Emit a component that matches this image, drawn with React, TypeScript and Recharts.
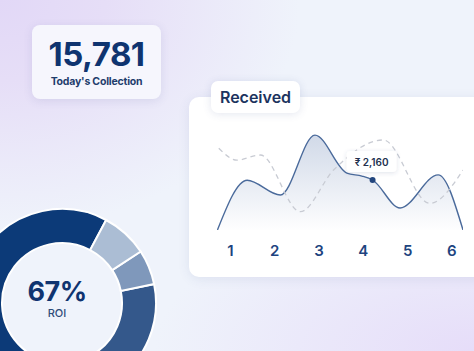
import React from 'react';
import {
  ComposedChart, Area, Line, XAxis, YAxis, ReferenceDot,
  PieChart, Pie, Cell,
} from 'recharts';

// 受取額（実線）
const receivedX = [0.71, 1.38, 2.13, 2.91, 3.63, 3.97, 4.21, 4.83, 5.69, 6.25];
const receivedY = [0, 2150, 1510, 4100, 2460, 2330, 2160, 950, 2380, 0];

// 比較用（破線）
const compareX = [0.74, 1.15, 1.68, 2.58, 3.33, 4.45, 5.5, 6.25];
const compareY = [3530, 3020, 3240, 790, 2590, 3890, 1150, 2590];

const xTicks = [1, 2, 3, 4, 5, 6];
const highlight = { x: 4.21, y: 2160, label: '₹ 2,160' };

// ROI ドーナツ
const roiNames = ['ROI', 'B', 'C', 'D'];
const roiValues = [67, 19, 6, 8];
const roiColors = ['#0c3a78', '#34588b', '#7f98bb', '#abbdd4'];

const totalCollection = '15,781';

const FONT = 'Inter, "Noto Sans", sans-serif';

const receivedData = receivedX.map((x, i) => ({ x, v: receivedY[i] }));
const compareData = compareX.map((x, i) => ({ x, v: compareY[i] }));
const roiData = roiNames.map((name, i) => ({ name, value: roiValues[i] }));

function HighlightShape(props: any) {
  const { cx, cy } = props;
  if (cx == null || cy == null) return null;
  return (
    <g>
      <rect x={cx - 26} y={cy - 29} width={50} height={21} rx={4} fill="#fff" filter="url(#tipShadow)" />
      <text x={cx - 1} y={cy - 18.5} textAnchor="middle" dominantBaseline="central"
        fontSize={10} fontWeight={600} fill="#22314f" fontFamily={FONT}>{highlight.label}</text>
      <circle cx={cx} cy={cy} r={3} fill="#23467e" />
    </g>
  );
}

export default function App() {
  return (
    <div style={{
      position: 'absolute', left: 0, top: 0, width: 474, height: 351, overflow: 'hidden',
      fontFamily: FONT,
      background: 'radial-gradient(ellipse 300px 230px at 0px 0px, #e2d8f7 0%, #e6def7 35%, rgba(230,222,247,0) 100%), radial-gradient(ellipse 320px 150px at 474px 351px, #e6ddf9 0%, rgba(230,221,249,0) 100%), #eff3fb',
    }}>
      {/* 今日の集金 */}
      <div style={{
        position: 'absolute', left: 32, top: 25, width: 129, height: 74, borderRadius: 8,
        background: '#f6f6fd', boxShadow: '0 2px 10px rgba(70,80,150,0.12)',
        textAlign: 'center', color: '#0f3470',
      }}>
        <div style={{ fontSize: 33, fontWeight: 700, lineHeight: '34px', marginTop: 12, letterSpacing: -0.5 }}>{totalCollection}</div>
        <div style={{ fontSize: 10.5, fontWeight: 700, marginTop: 4, color: '#1f3d6c', letterSpacing: -0.2 }}>Today's Collection</div>
      </div>

      {/* グラフカード */}
      <div style={{
        position: 'absolute', left: 189, top: 97, width: 300, height: 180, borderRadius: 10,
        background: '#fff', boxShadow: '0 2px 12px rgba(60,80,140,0.10)',
      }} />
      <div style={{
        position: 'absolute', left: 211, top: 81, width: 89, height: 32, borderRadius: 7,
        background: '#fff', boxShadow: '0 1px 8px rgba(60,80,140,0.14)',
        fontSize: 16, fontWeight: 600, color: '#1c335e', lineHeight: '32px', textAlign: 'center',
      }}>Received</div>

      <div style={{ position: 'absolute', left: 190, top: 110 }}>
        <ComposedChart width={284} height={160} margin={{ top: 20, right: 11, bottom: 0, left: 27 }}>
          <defs>
            <linearGradient id="recvFill" x1="0" y1="0" x2="0" y2="1">
              <stop offset="0%" stopColor="#34599a" stopOpacity={0.38} />
              <stop offset="100%" stopColor="#34599a" stopOpacity={0.01} />
            </linearGradient>
            <filter id="tipShadow" x="-30%" y="-50%" width="160%" height="200%">
              <feDropShadow dx="0" dy="1" stdDeviation="2" floodColor="#3c4a78" floodOpacity="0.16" />
            </filter>
          </defs>
          <XAxis dataKey="x" type="number" domain={[0.7, 6.25]} ticks={xTicks} allowDataOverflow
            axisLine={false} tickLine={false} tickSize={0} tickMargin={15} height={40}
            tick={{ fill: '#1d4480', fontSize: 15, fontWeight: 600, fontFamily: FONT }} />
          <YAxis type="number" domain={[0, 4320]} hide allowDataOverflow />
          <Line data={compareData} dataKey="v" type="monotone" stroke="#c8cbd3" strokeWidth={1.3}
            strokeDasharray="5 4" dot={false} activeDot={false} isAnimationActive={false} />
          <Area data={receivedData} dataKey="v" type="monotone" stroke="#4a6a9b" strokeWidth={1.4}
            fill="url(#recvFill)" dot={false} activeDot={false} isAnimationActive={false} />
          <ReferenceDot x={highlight.x} y={highlight.y} r={3} shape={HighlightShape} />
        </ComposedChart>
      </div>

      {/* ROI ドーナツ */}
      <div style={{ position: 'absolute', left: -43, top: 198 }}>
        <PieChart width={200} height={200}>
          <Pie data={roiData} dataKey="value" cx={100} cy={100} innerRadius={60} outerRadius={94}
            startAngle={62} endAngle={422} stroke="#fff" strokeWidth={2} isAnimationActive={false}>
            {roiData.map((d, i) => (
              <Cell key={d.name} fill={roiColors[i]} />
            ))}
          </Pie>
        </PieChart>
      </div>
      <div style={{ position: 'absolute', left: 17, top: 277, width: 80, textAlign: 'center' }}>
        <div style={{ fontSize: 27, fontWeight: 700, color: '#0f3470', lineHeight: '30px', letterSpacing: -0.5 }}>{roiValues[0]}%</div>
        <div style={{ fontSize: 11, fontWeight: 500, color: '#2f4c7a', lineHeight: '13px' }}>{roiNames[0]}</div>
      </div>
    </div>
  );
}
